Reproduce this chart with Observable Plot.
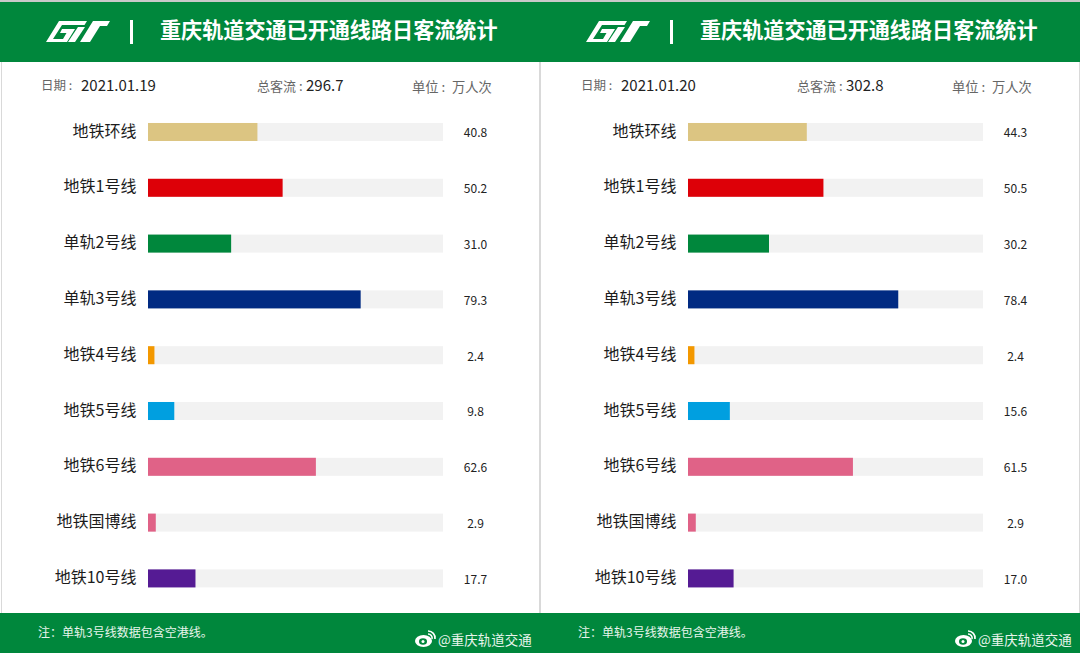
<!DOCTYPE html>
<html><head><meta charset="utf-8">
<script src="https://cdn.jsdelivr.net/npm/d3@7"></script>
<script src="https://cdn.jsdelivr.net/npm/@observablehq/plot@0.6"></script>
<style>
html,body{margin:0;padding:0;background:#fff;}
#root{position:relative;width:1080px;height:654px;overflow:hidden;font-family:"Noto Sans CJK SC","Noto Sans",sans-serif;}
.panel{position:absolute;top:0;width:540px;height:654px;overflow:hidden;}
.panel>svg:not(.ic){position:absolute;left:0;top:0;background:transparent;}
.strip{position:absolute;left:0;top:0;width:540px;height:2px;background:#c9c9c9;}
.head{position:absolute;left:0;top:2px;width:540px;height:60px;background:#00873c;}
.foot{position:absolute;left:0;top:613px;width:540px;height:40px;background:#00873c;}
.edge{position:absolute;top:62px;height:551px;width:1px;background:#d9d9d9;}
.t{position:absolute;white-space:nowrap;line-height:1;}
.ic{position:absolute;}
</style></head><body><div id="root"></div>
<script>
const lines=["地铁环线","地铁1号线","单轨2号线","单轨3号线","地铁4号线","地铁5号线","地铁6号线","地铁国博线","地铁10号线"];
const colors=["#dcc582","#dd0008","#00873c","#012a82","#f39800","#009fe0","#e06287","#e06287","#551b94"];
const valuesA=[40.8,50.2,31.0,79.3,2.4,9.8,62.6,2.9,17.7];
const valuesB=[44.3,50.5,30.2,78.4,2.4,15.6,61.5,2.9,17.0];
const dates=["2021.01.19","2021.01.20"];
const totals=["296.7","302.8"];
const title="重庆轨道交通已开通线路日客流统计";
const note="注：单轨3号线数据包含空港线。";
const full=110;

function panel(left,values,date,total,edges){
  const p=document.createElement("div");p.className="panel";p.style.left=left+"px";
  const add=(txt,x,y,size,color,weight)=>{const d=document.createElement("div");d.className="t";d.textContent=txt;
    d.style.cssText=`left:${x}px;top:${y}px;font-size:${size}px;color:${color};font-weight:${weight||400}`;p.appendChild(d);};
  const s=document.createElement("div");s.className="strip";p.appendChild(s);
  const h=document.createElement("div");h.className="head";p.appendChild(h);
  const f=document.createElement("div");f.className="foot";p.appendChild(f);
  for(const x of edges){const e=document.createElement("div");e.className="edge";e.style.left=x+"px";p.appendChild(e);}
  const rows=lines.map((l,i)=>({line:l,value:values[i],color:colors[i]}));
  const chart=Plot.plot({
    width:540,height:654,marginLeft:148,marginRight:97,marginTop:0,marginBottom:0,
    style:{background:"transparent",fontFamily:"'Noto Sans CJK SC',sans-serif"},
    x:{domain:[0,full],axis:null},
    y:{domain:lines,range:[85.2,625.2],padding:0.677,round:false,label:null},
    color:{type:"identity"},
    marks:[
      Plot.barX(rows,{x1:0,x2:full,y:"line",fill:"#f2f2f2"}),
      Plot.barX(rows,{x1:0,x2:"value",y:"line",fill:"color"}),
      Plot.axisY({tickSize:0,tickPadding:12,fontSize:16,color:"#1c1c1c",label:null,dy:-1}),
      Plot.text(rows,{x:full,y:"line",text:d=>d.value.toFixed(1),dx:32,dy:1,fontSize:12,fill:"#222",textAnchor:"middle"})
    ]});
  p.appendChild(chart);
  add(title,160,19,21.1,"#fff",700);
  add("日期 :",41,79,12.5,"#666");
  add(date,81,77,15,"#222");
  add("总客流 :",257,79,13,"#666");
  add(total,306,77,15,"#222");
  add("单位 :",412,80,13.3,"#666");
  add("万人次",452,80,13.3,"#666");
  add(note,38,626,12,"#e8f5ec");
  const logo=document.createElementNS("http://www.w3.org/2000/svg","svg");
  logo.setAttribute("class","ic");logo.setAttribute("width","70");logo.setAttribute("height","26");logo.setAttribute("viewBox","44 18 70 26");
  logo.style.cssText="left:44px;top:18px";
  logo.innerHTML=`<path fill="#fff" d="M46 42L59 21H87L84.500 25H62L53 39H63L66.500 33H60L62 29H75L67 42Z"/><path fill="#fff" d="M68 42L78 27H85L75 42Z"/><path fill="#fff" d="M80 42L93 21H110L107 26H100L90 42Z"/>`;
  p.appendChild(logo);
  const bar=document.createElement("div");bar.style.cssText="position:absolute;left:130px;top:20px;width:3px;height:24px;background:#fff";p.appendChild(bar);
  const w=document.createElementNS("http://www.w3.org/2000/svg","svg");
  w.setAttribute("class","ic");w.setAttribute("width","24");w.setAttribute("height","20");w.setAttribute("viewBox","0 0 24 20");
  w.style.cssText="left:414px;top:629px";
  w.innerHTML=`<ellipse cx="9.500" cy="12" rx="8.500" ry="6" fill="#fff"/><ellipse cx="9" cy="12.500" rx="4" ry="3.200" fill="#00873c"/><circle cx="9" cy="12.500" r="1.500" fill="#fff"/><path d="M14 2a7 7 0 0 1 7 8M14 5a4 4 0 0 1 4 5" fill="none" stroke="#fff" stroke-width="1.600"/>`;
  p.appendChild(w);
  add("@重庆轨道交通",438,633,13.5,"#e8f5ec");
  return p;
}
const root=document.getElementById("root");
root.appendChild(panel(0,valuesA,dates[0],totals[0],[1,539]));
root.appendChild(panel(540,valuesB,dates[1],totals[1],[0,539]));
</script></body></html>
